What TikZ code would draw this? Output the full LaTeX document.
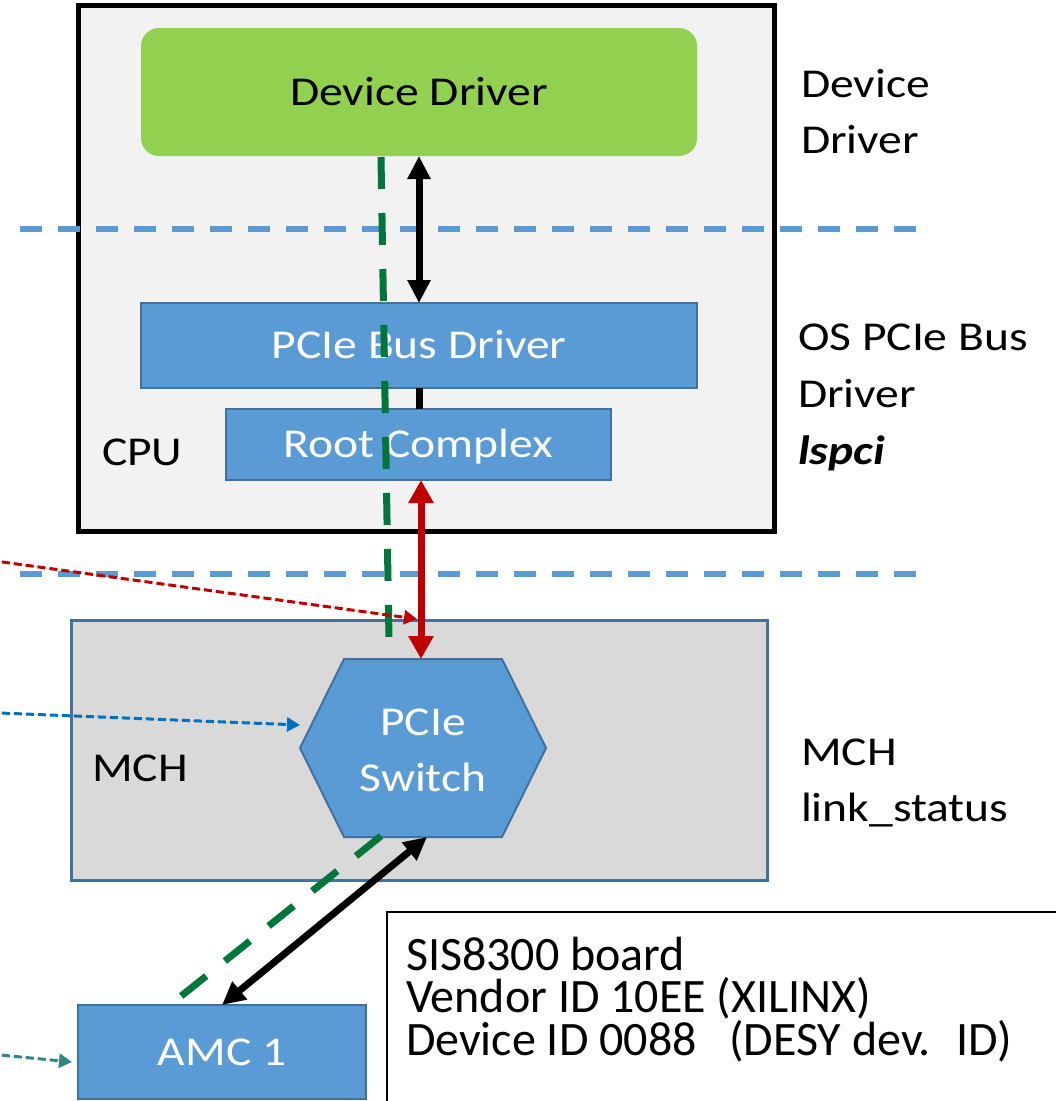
\documentclass[tikz,border=0pt]{standalone}
\usepackage{fontspec}
\setmainfont{Carlito}[FakeStretch=1.16]
\newfontfamily\plainfont{Carlito}
\usetikzlibrary{arrows.meta,calc}
\definecolor{cpufill}{HTML}{F2F2F2}
\definecolor{mchfill}{HTML}{D9D9D9}
\definecolor{boxblue}{HTML}{5B9BD5}
\definecolor{boxedge}{HTML}{41719C}
\definecolor{ddgreen}{HTML}{92D050}
\definecolor{sepblue}{HTML}{5B9BD5}
\definecolor{pathgreen}{RGB}{0,118,58}
\definecolor{arrred}{HTML}{C00000}
\definecolor{dotblue}{HTML}{0070C0}
\definecolor{dotteal}{RGB}{49,133,130}
\begin{document}
\begin{tikzpicture}[x=1pt,y=-1pt,
  every node/.style={font=\fontsize{41}{48}\selectfont, inner sep=0pt, outer sep=0pt},
  bluebox/.style={draw=boxedge, line width=2, fill=boxblue, text=white, text height=26.4pt, text depth=0pt},
  lbl/.style={anchor=base west},
  infotext/.style={anchor=base west, font=\plainfont\fontsize{48}{48}\selectfont},
  sepline/.style={draw=sepblue, line width=5.5, dash pattern=on 22pt off 16pt},
  blkarrow/.style={line width=7, {Triangle[length=23pt,width=22pt]}-{Triangle[length=23pt,width=22pt]}},
  redarrow/.style={draw=arrred, line width=7, {Triangle[length=23pt,width=24pt]}-{Triangle[length=23pt,width=24pt]}},
  greendash/.style={draw=pathgreen, line width=7, dash pattern=on 32pt off 24pt},
  dotarrow/.style={line width=3, dash pattern=on 8pt off 4pt, -{Triangle[length=13pt,width=14pt]}}
]
\clip (0,0) rectangle (1056,1101);
\fill[white] (0,0) rectangle (1056,1101);

% CPU box
\node[draw=black, line width=5, fill=cpufill, minimum width=696, minimum height=526] (cpu) at (426.5,268.5) {};

% separators
\draw[sepline] (20,229) -- (918,229);
\draw[sepline] (20,574) -- (918,574);

% MCH box
\node[draw=boxedge, line width=3, fill=mchfill, minimum width=695.5, minimum height=260] (mch) at (419.25,750.5) {};

% inner boxes
\node[fill=ddgreen, rounded corners=18, minimum width=556, minimum height=128, text height=26.4pt, text depth=0pt] (dd) at (419,92) {Device Driver};
\node[bluebox, minimum width=556, minimum height=85] (pbd) at (419,345.5) {PCIe Bus Driver};
\node[bluebox, minimum width=385, minimum height=71] (rc) at (418.5,444.5) {Root Complex};

% hexagon switch
\draw[draw=boxedge, line width=2, fill=boxblue] (344,659) -- (502,659) -- (546,748) -- (502,837) -- (344,837) -- (300,748) -- cycle;
\node[text=white, align=center, font=\fontsize{41}{56}\selectfont] (sw) at (423,750) {PCIe\\Switch};
\coordinate (swtop) at (421,659);
\coordinate (swbot) at (427,837);

% AMC
\node[bluebox, minimum width=288, minimum height=94] (amc) at (222,1052) {AMC 1};

% labels
\node[lbl] (cpulbl) at (102,465) {CPU};
\node[lbl] (mchlbl) at (92,781) {MCH};
\node[lbl] (r1a) at (801,97) {Device};
\node[lbl] (r1b) at (801,153) {Driver};
\node[lbl] (r2a) at (798,350) {OS PCIe Bus};
\node[lbl] (r2b) at (798,407) {Driver};
\node[lbl] (r2c) at (798,464) {\textbf{\textit{lspci}}};
\node[lbl] (r3a) at (801,765) {MCH};
\node[lbl] (r3b) at (801,821) {link\_status};

% connectors
\draw[blkarrow] (dd.south) -- (pbd.north);
\draw[line width=7] (pbd.south) -- (pbd.south |- rc.north);
\draw[redarrow] (rc.south -| swtop) -- (swtop);
\draw[blkarrow] (swbot) -- (amc.north);

\coordinate (g1) at (381,157);
\coordinate (g2) at (389,640);
\draw[greendash] (g1) -- (g2);
\coordinate (g3) at (381,836);
\coordinate (g4) at (180,997);
\draw[greendash] (g3) -- (g4);

% dotted arrows from the left
\coordinate (rs) at (-10,560.3);
\coordinate (rt) at (417,619);
\draw[dotarrow, draw=arrred, fill=arrred] (rs) -- (rt);
\coordinate (bs) at (-10,712.6);
\coordinate (bt) at (300,725);
\draw[dotarrow, draw=dotblue, fill=dotblue] (bs) -- (bt);
\coordinate (ts) at (-10,1054);
\coordinate (tt) at (72,1062);
\draw[dotarrow, draw=dotteal, fill=dotteal] (ts) -- (tt);

% info box
\node[draw=black, line width=2, minimum width=700, minimum height=220, anchor=north west] (info) at (387,912) {};
\node[infotext] (i1) at (406,970) {SIS8300 board};
\node[infotext] (i2) at (406,1012) {Vendor ID 10EE (XILINX)};
\node[infotext] (i3) at (406,1055) {Device ID 0088~~ (DESY dev.~ ID)};
\end{tikzpicture}
\end{document}
